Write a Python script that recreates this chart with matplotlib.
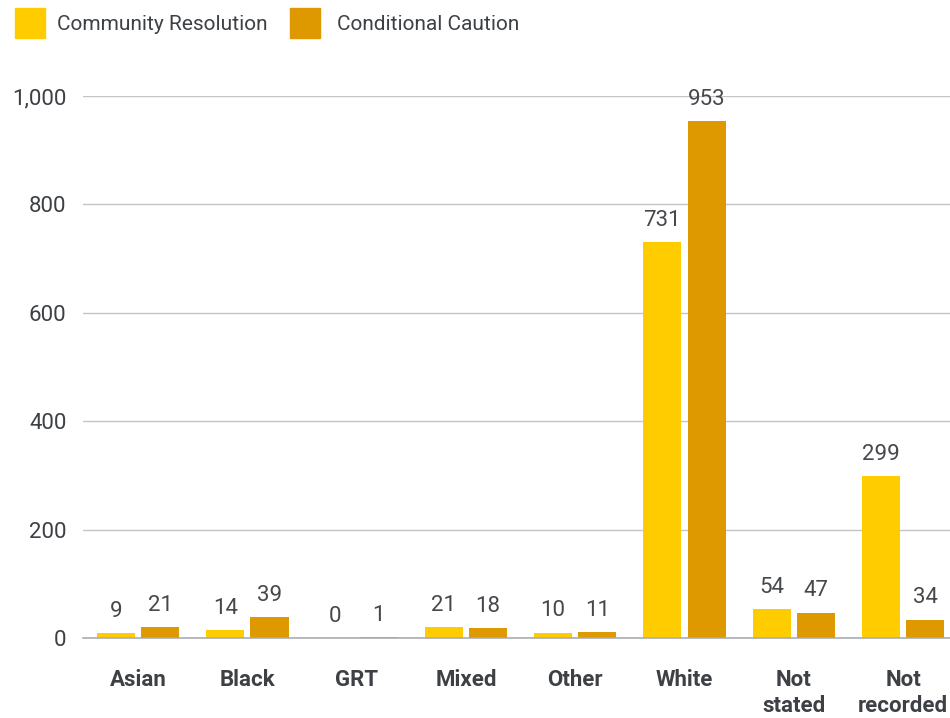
import matplotlib
matplotlib.use("Agg")
import matplotlib.pyplot as plt
from matplotlib.patches import Rectangle
import numpy as np

categories = ["Asian", "Black", "GRT", "Mixed", "Other", "White", "Not\nstated", "Not\nrecorded"]
community_resolution = [9, 14, 0, 21, 10, 731, 54, 299]
conditional_caution = [21, 39, 1, 18, 11, 953, 47, 34]
y_ticks = [0, 200, 400, 600, 800, 1000]
y_tick_labels = ["0", "200", "400", "600", "800", "1,000"]

YELLOW = "#FFCC00"
ORANGE = "#DE9900"
TEXT = "#3d4044"
FONT = ["Roboto", "DejaVu Sans"]

plt.rcParams["font.family"] = FONT

fig = plt.figure(figsize=(9.5, 7.18), dpi=100)
ax = fig.add_axes([0.0874, 0.1114, 0.9126, 0.7549])

x = np.arange(len(categories))
w = 0.35
gap = 0.055
b1 = ax.bar(x - (w + gap) / 2, community_resolution, width=w, color=YELLOW, zorder=3)
b2 = ax.bar(x + (w + gap) / 2, conditional_caution, width=w, color=ORANGE, zorder=3)

for bars, vals in ((b1, community_resolution), (b2, conditional_caution)):
    for rect, v in zip(bars, vals):
        ax.annotate(f"{v:,}", (rect.get_x() + rect.get_width() / 2, v),
                    xytext=(0, 8), textcoords="offset points",
                    ha="center", va="bottom", fontsize=16, color="#45484c",
                    zorder=4, annotation_clip=False)

ax.set_xlim(-0.505, 7.43)
ax.set_ylim(0, 1000)
ax.set_yticks(y_ticks)
ax.set_yticklabels(y_tick_labels, fontsize=16, color=TEXT)
ax.set_xticks(x)
ax.set_xticklabels(categories, fontsize=16, fontweight="bold", color=TEXT,
                   va="top", linespacing=1.25)
ax.tick_params(axis="both", length=0)
ax.tick_params(axis="y", pad=12)
ax.tick_params(axis="x", pad=22)

ax.grid(axis="y", color="#c4c4c4", linewidth=1, zorder=0)
ax.set_axisbelow(True)
for s in ["top", "right", "left"]:
    ax.spines[s].set_visible(False)
ax.spines["bottom"].set_color("#a9adb2")
ax.spines["bottom"].set_linewidth(1.2)
ax.spines["bottom"].set_zorder(5)

# legend across the top: (label, colour, swatch x, text x) in pixels
legend_items = [("Community Resolution", YELLOW, 15, 57),
                ("Conditional Caution", ORANGE, 290, 337)]
for label, color, sx, tx in legend_items:
    fig.patches.append(Rectangle((sx / 950, 1 - 38 / 718), 30 / 950, 30 / 718,
                                 transform=fig.transFigure, color=color))
    fig.text(tx / 950, 1 - 25 / 718, label, fontsize=15, color=TEXT,
             ha="left", va="center")

fig.savefig("out.png", dpi=100)
